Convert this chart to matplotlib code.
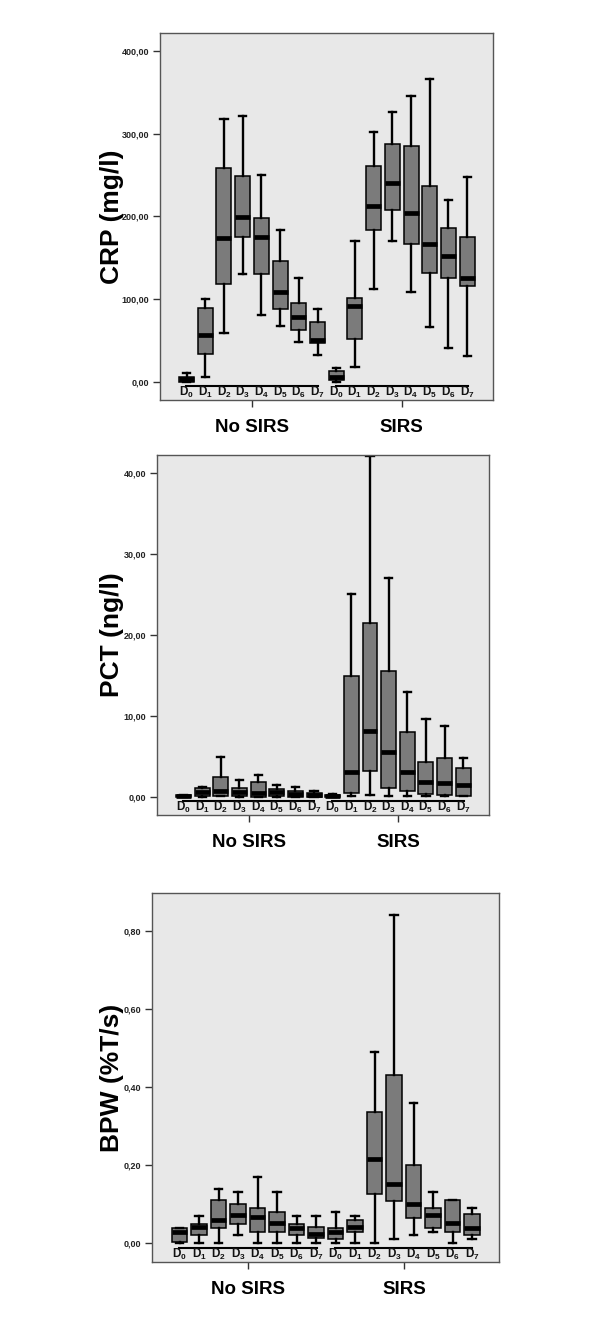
#!/usr/bin/env python

import numpy as np
import matplotlib as mpl
mpl.use('Agg')
import matplotlib.pyplot as plt
from matplotlib.transforms import blended_transform_factory
from matplotlib.ticker import FuncFormatter

mpl.rc('font', family='Liberation Sans')
mpl.rc('mathtext', fontset='custom', rm='Liberation Sans', bf='Liberation Sans:bold')

groups = ['No SIRS', 'SIRS']
days = ['0', '1', '2', '3', '4', '5', '6', '7']

# rows are D0..D7: whisker low, q1, median, q3, whisker high
crp_no_sirs = [
    [0, 0, 3, 6, 10],
    [6, 34, 57, 89, 100],
    [59, 118, 174, 258, 318],
    [130, 175, 199, 249, 321],
    [81, 130, 175, 198, 250],
    [67, 88, 108, 146, 184],
    [48, 63, 78, 95, 125],
    [32, 47, 50, 72, 88],
]
crp_sirs = [
    [0, 2, 6, 13, 17],
    [18, 52, 91, 101, 170],
    [112, 184, 213, 261, 302],
    [170, 208, 240, 288, 326],
    [108, 167, 204, 285, 345],
    [66, 132, 167, 237, 366],
    [41, 125, 152, 186, 220],
    [31, 116, 126, 175, 248],
]
pct_no_sirs = [
    [0, 0, 0.1, 0.3, 0.3],
    [0, 0.1, 0.7, 1.1, 1.3],
    [0.1, 0.15, 0.8, 2.5, 5.0],
    [0.05, 0.15, 0.6, 1.1, 2.1],
    [0, 0.05, 0.5, 1.85, 2.7],
    [0, 0.15, 0.6, 1.0, 1.55],
    [0, 0.05, 0.4, 0.8, 1.3],
    [0, 0, 0.3, 0.55, 0.8],
]
pct_sirs = [
    [0, 0, 0.1, 0.3, 0.4],
    [0.1, 0.55, 3.1, 15.0, 25.0],
    [0.3, 3.3, 8.2, 21.5, 42.0],
    [0.2, 1.2, 5.6, 15.5, 27.0],
    [0.2, 0.8, 3.1, 8.1, 13.0],
    [0.1, 0.4, 1.9, 4.35, 9.7],
    [0.1, 0.3, 1.8, 4.8, 8.8],
    [0.1, 0.15, 1.5, 3.6, 4.8],
]
bpw_no_sirs = [
    [0.0, 0.004, 0.028, 0.04, 0.04],
    [0.0, 0.02, 0.041, 0.049, 0.07],
    [0.0, 0.04, 0.06, 0.111, 0.139],
    [0.02, 0.049, 0.072, 0.10, 0.13],
    [0.0, 0.029, 0.066, 0.09, 0.17],
    [0.0, 0.029, 0.051, 0.08, 0.13],
    [0.0, 0.02, 0.038, 0.049, 0.07],
    [0.0, 0.013, 0.023, 0.041, 0.071],
]
bpw_sirs = [
    [0.0, 0.01, 0.03, 0.04, 0.079],
    [0.0, 0.03, 0.041, 0.06, 0.07],
    [0.0, 0.125, 0.215, 0.335, 0.49],
    [0.01, 0.109, 0.151, 0.43, 0.84],
    [0.02, 0.065, 0.10, 0.20, 0.36],
    [0.03, 0.039, 0.072, 0.09, 0.13],
    [0.0, 0.03, 0.051, 0.111, 0.111],
    [0.01, 0.02, 0.04, 0.076, 0.09],
]

W, H = 600, 1334

panels = [
    dict(ylabel='CRP (mg/l)', data=[crp_no_sirs, crp_sirs],
         yticks=[0, 100, 200, 300, 400], ylim=(-22.1, 421.7),
         px=(160, 493, 33, 400), label_x=112),
    dict(ylabel='PCT (ng/l)', data=[pct_no_sirs, pct_sirs],
         yticks=[0, 10, 20, 30, 40], ylim=(-2.18, 42.17),
         px=(157, 489, 455, 815), label_x=112),
    dict(ylabel='BPW (%T/s)', data=[bpw_no_sirs, bpw_sirs],
         yticks=[0, 0.2, 0.4, 0.6, 0.8], ylim=(-0.048, 0.8965),
         px=(152, 499, 893, 1262), label_x=112),
]

box_fill = '#7b7b7b'
bg = '#e8e8e8'
offsets = (np.arange(len(days)) - 3.5) * 0.125


def comma_fmt(v, pos):
    return f'{v:.2f}'.replace('.', ',')


def main() -> None:

    fig = plt.figure(figsize=(W / 100, H / 100), dpi=100)

    for p in panels:
        l, r, t, b = p['px']
        ax = fig.add_axes([l / W, 1 - b / H, (r - l) / W, (b - t) / H])
        ax.set_facecolor(bg)
        h = b - t

        for gi, gdata in enumerate(p['data']):
            stats = []
            for row in gdata:
                lo, q1, med, q3, hi = row
                stats.append(dict(whislo=lo, q1=q1, med=med, q3=q3, whishi=hi))
            ax.bxp(
                stats,
                positions=gi + offsets,
                widths=0.1,
                capwidths=0.048,
                showfliers=False,
                patch_artist=True,
                boxprops=dict(facecolor=box_fill, edgecolor='k', lw=1.1),
                medianprops=dict(color='k', lw=3.4, solid_capstyle='butt'),
                whiskerprops=dict(color='k', lw=1.7),
                capprops=dict(color='k', lw=1.7),
                manage_ticks=False,
            )

            trans = blended_transform_factory(ax.transData, ax.transAxes)
            ax.plot(
                [gi - 0.44, gi + 0.44],
                [14.5 / h, 14.5 / h],
                transform=trans,
                color='k',
                lw=1.5,
                clip_on=False,
                zorder=3,
            )
            for di, d in enumerate(days):
                ax.text(
                    gi + offsets[di],
                    7.5 / h,
                    r'$\mathbf{D}_{\mathbf{' + d + '}}$',
                    transform=trans,
                    ha='center',
                    va='center',
                    fontsize=8.5,
                    color='#111111',
                )

        ax.set_xlim(-0.615, 1.61)
        ax.set_ylim(*p['ylim'])
        ax.set_xticks([0, 1])
        ax.set_xticklabels(groups, fontsize=13.5, fontweight='bold')
        ax.set_yticks(p['yticks'])
        ax.yaxis.set_major_formatter(FuncFormatter(comma_fmt))
        ax.tick_params(axis='x', length=5, width=1, pad=9, color='#333333')
        ax.tick_params(axis='y', length=5, width=1, pad=3, color='#333333',
                       labelsize=6.5)
        for lab in ax.get_yticklabels():
            lab.set_fontweight('bold')
            lab.set_color('#222222')

        for sp in ax.spines.values():
            sp.set_color('#555555')
            sp.set_linewidth(1.0)

        ax.set_ylabel(p['ylabel'], fontsize=19, fontweight='bold', va='center')
        ax.yaxis.set_label_coords((p['label_x'] - l) / (r - l), 0.5)

    fig.savefig('out.png', dpi=100, facecolor='white')


if __name__ == '__main__':
    main()
